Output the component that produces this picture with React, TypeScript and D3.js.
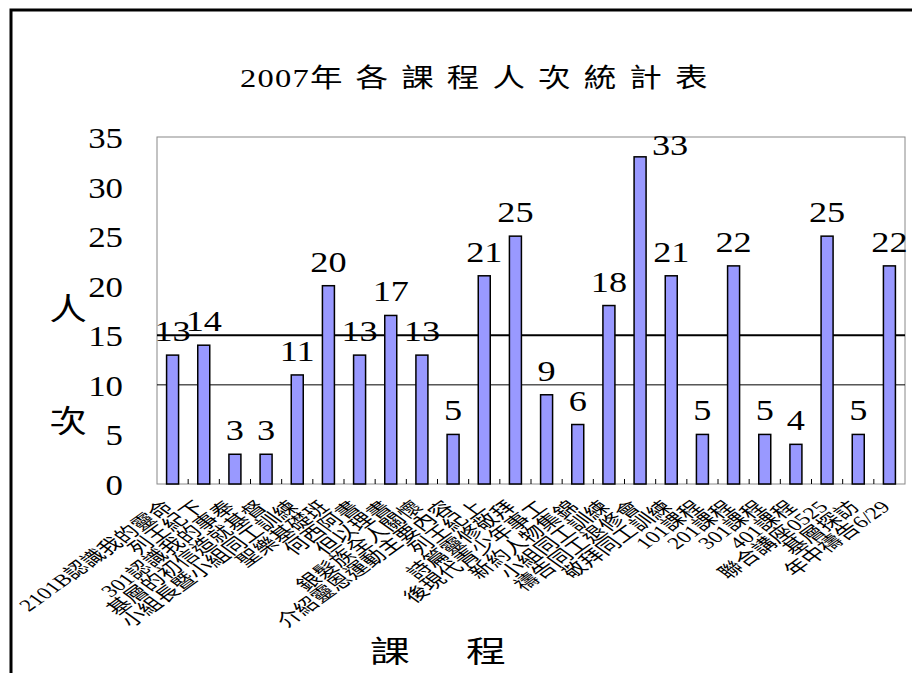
import { useEffect, useRef } from "react";
import * as d3 from "d3";

const categories = [
  "2101B認識我的靈命",
  "列王紀下",
  "301認識我的事奉",
  "基層的初信造就基督",
  "小組長暨小組同工訓練",
  "聖樂基礎班",
  "何西阿書",
  "但以理書",
  "銀髮族全人關懷",
  "介紹靈恩運動主要內容",
  "列王紀上",
  "詩篇靈修敬拜",
  "後現代青少年事工",
  "新約人物集錦",
  "小組同工訓練",
  "禱告同工退修會",
  "敬拜同工訓練",
  "101課程",
  "201課程",
  "301課程",
  "401課程",
  "聯合講座0525",
  "基層探訪",
  "年中禱告6/29",
];

const values = [13, 14, 3, 3, 11, 20, 13, 17, 13, 5, 21, 25, 9, 6, 18, 33, 21, 5, 22, 5, 4, 25, 5, 22];

const yTicks = [0, 5, 10, 15, 20, 25, 30, 35];
const gridLines = [10];
const refLine = 15;

const titleYear = "2007";
const titleRest = "年各課程人次統計表";
const yTitle = ["人", "次"];
const xTitle = ["課", "程"];

const SERIF = "'Liberation Serif', 'Noto Sans CJK TC', serif";

export default function App() {
  const svgRef = useRef<SVGSVGElement | null>(null);
  const W = 912;
  const H = 673;

  useEffect(() => {
    if (!svgRef.current) return;
    const svg = d3.select(svgRef.current);
    svg.selectAll("*").remove();

    const plot = { left: 157, right: 905, top: 137, bottom: 484 };

    svg.append("rect").attr("width", W).attr("height", H).attr("fill", "#fff");

    // outer frame (runs off the right/bottom edge)
    svg
      .append("rect")
      .attr("x", 11)
      .attr("y", 10)
      .attr("width", W + 20)
      .attr("height", H + 20)
      .attr("fill", "none")
      .attr("stroke", "#000")
      .attr("stroke-width", 3);

    const x = d3.scaleBand<string>().domain(categories).range([plot.left, plot.right]).padding(0);
    const y = d3.scaleLinear().domain([0, 35]).range([plot.bottom, plot.top]);
    const barW = 12;

    // title
    const t = svg
      .append("text")
      .attr("transform", `translate(240,87) scale(1.25,1)`)
      .attr("font-family", SERIF)
      .attr("font-size", 26);
    t.append("tspan").attr("letter-spacing", 1).text(titleYear);
    t.append("tspan").attr("letter-spacing", 10.5).text(titleRest);

    // plot frame
    svg
      .append("rect")
      .attr("x", plot.left)
      .attr("y", plot.top)
      .attr("width", plot.right - plot.left)
      .attr("height", plot.bottom - plot.top)
      .attr("fill", "none")
      .attr("stroke", "#888")
      .attr("stroke-width", 1);

    // grid
    gridLines.forEach((v) => {
      svg
        .append("line")
        .attr("x1", plot.left)
        .attr("x2", plot.right)
        .attr("y1", y(v))
        .attr("y2", y(v))
        .attr("stroke", "#000")
        .attr("stroke-width", 1);
    });
    svg
      .append("line")
      .attr("x1", plot.left)
      .attr("x2", plot.right)
      .attr("y1", y(refLine))
      .attr("y2", y(refLine))
      .attr("stroke", "#000")
      .attr("stroke-width", 2);

    // y tick labels
    svg
      .append("g")
      .selectAll("text")
      .data(yTicks)
      .join("text")
      .attr("transform", (d) => `translate(123,${y(d) + 11}) scale(1.2,1)`)
      .attr("text-anchor", "end")
      .attr("font-family", SERIF)
      .attr("font-size", 29)
      .text((d) => d);

    // category ticks
    svg
      .append("g")
      .selectAll("line")
      .data(categories.slice(1))
      .join("line")
      .attr("x1", (d) => x(d)!)
      .attr("x2", (d) => x(d)!)
      .attr("y1", plot.bottom - 5)
      .attr("y2", plot.bottom)
      .attr("stroke", "#000")
      .attr("stroke-width", 1);

    // bars
    svg
      .append("g")
      .selectAll("rect")
      .data(values)
      .join("rect")
      .attr("x", (_, i) => x(categories[i])! + (x.bandwidth() - barW) / 2)
      .attr("y", (d) => y(d))
      .attr("width", barW)
      .attr("height", (d) => plot.bottom - y(d))
      .attr("fill", "#9999FF")
      .attr("stroke", "#000")
      .attr("stroke-width", 1.5);

    // value labels
    svg
      .append("g")
      .selectAll("text")
      .data(values)
      .join("text")
      .attr("transform", (d, i) => {
        const cx = x(categories[i])! + x.bandwidth() / 2;
        let bx = cx;
        let by = y(d) - 14;
        if (by - 20 < plot.top) {
          bx = cx + 30;
          by = y(d) - 2;
        }
        return `translate(${bx},${by}) scale(1.25,1)`;
      })
      .attr("text-anchor", "middle")
      .attr("font-family", SERIF)
      .attr("font-size", 29)
      .text((d) => d);

    // category labels
    svg
      .append("g")
      .selectAll("text")
      .data(categories)
      .join("text")
      .attr("transform", (d) => `translate(${x(d)! + x.bandwidth() / 2 + 2},508) scale(1.4,1) rotate(-45)`)
      .attr("text-anchor", "end")
      .attr("font-family", SERIF)
      .attr("font-size", 17)
      .text((d) => d);

    // axis titles
    svg
      .append("g")
      .selectAll("text")
      .data(yTitle)
      .join("text")
      .attr("transform", (_, i) => `translate(68,${i === 0 ? 320 : 432}) scale(1.2,1)`)
      .attr("text-anchor", "middle")
      .attr("font-family", SERIF)
      .attr("font-size", 31)
      .text((d) => d);

    svg
      .append("g")
      .selectAll("text")
      .data(xTitle)
      .join("text")
      .attr("transform", (_, i) => `translate(${i === 0 ? 390 : 486},662) scale(1.33,1)`)
      .attr("text-anchor", "middle")
      .attr("font-family", SERIF)
      .attr("font-size", 30)
      .text((d) => d);
  }, []);

  return (
    <svg
      ref={svgRef}
      width={W}
      height={H}
      style={{ position: "absolute", left: 0, top: 0, display: "block" }}
    />
  );
}
